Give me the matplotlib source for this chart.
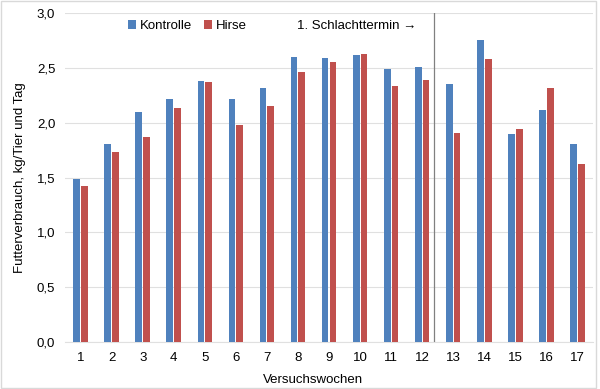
import numpy as np
import matplotlib
matplotlib.use("Agg")
import matplotlib.pyplot as plt
from matplotlib.patches import Rectangle

####### Daten #######
wochen = list(range(1, 18))
kontrolle = [1.49, 1.81, 2.10, 2.22, 2.38, 2.22, 2.32, 2.60, 2.59, 2.62,
             2.49, 2.51, 2.35, 2.75, 1.90, 2.12, 1.81]
hirse = [1.42, 1.73, 1.87, 2.13, 2.37, 1.98, 2.15, 2.46, 2.55, 2.63,
         2.33, 2.39, 1.91, 2.58, 1.94, 2.32, 1.62]
ytick_labels = ["0,0", "0,5", "1,0", "1,5", "2,0", "2,5", "3,0"]

BLAU = "#4F81BD"
ROT = "#C0504D"
GRID = "#E0E0E0"

plt.rcParams["font.family"] = ["Liberation Sans", "DejaVu Sans"]
plt.rcParams["font.size"] = 9.5

fig = plt.figure(figsize=(6, 3.89), dpi=100)
ax = fig.add_axes([65 / 600, 47 / 389, 528 / 600, 329 / 389])

x = np.array(wochen)
breite = 0.215
ax.bar(x - 0.125, kontrolle, breite, color=BLAU, label="Kontrolle", zorder=3)
ax.bar(x + 0.125, hirse, breite, color=ROT, label="Hirse", zorder=3)

ax.set_xlim(0.5, 17.5)
ax.set_ylim(0, 3.0)
ax.set_xticks(x)
ax.set_xticklabels([str(w) for w in wochen])
ax.set_yticks(np.arange(0, 3.01, 0.5))
ax.set_yticklabels(ytick_labels)
ax.tick_params(length=0, colors="#000000")
ax.tick_params(axis="x", pad=7)
ax.tick_params(axis="y", pad=7)
ax.grid(axis="y", color=GRID, linewidth=0.8, zorder=0)
for s in ["top", "right", "left"]:
    ax.spines[s].set_visible(False)
ax.spines["bottom"].set_color(GRID)

# 1. Schlachttermin
ax.axvline(12.37, color="#808080", linewidth=0.9, zorder=4)
fig.text(297 / 600, 1 - 26 / 389, "1. Schlachttermin \u2192", va="center", ha="left")

ax.set_ylabel("Futterverbrauch, kg/Tier und Tag")
ax.yaxis.set_label_coords(-0.073, 0.5)
fig.text(313 / 600, 1 - 380 / 389, "Versuchswochen", ha="center", va="center")

leg = ax.legend(loc="center left", bbox_to_anchor=(121 / 600, 1 - 26 / 389),
                bbox_transform=fig.transFigure, ncol=2, frameon=False,
                handlelength=0.6, handleheight=0.6, handletextpad=0.3,
                columnspacing=0.9, borderpad=0)

fig.patches.append(Rectangle((0.002, 0.003), 0.992, 0.994, transform=fig.transFigure,
                             fill=False, edgecolor="#D9D9D9", linewidth=1))

fig.savefig("out.png", dpi=100)
